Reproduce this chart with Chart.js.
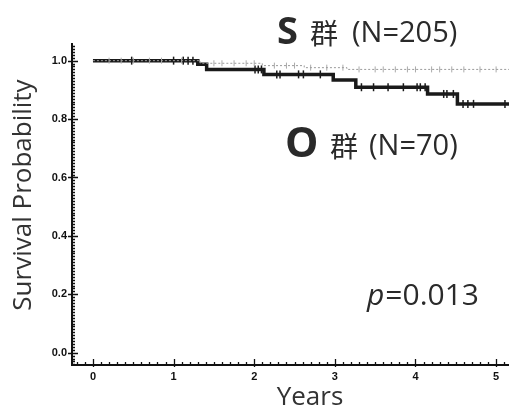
<!DOCTYPE html>
<html>
<head>
<meta charset="utf-8">
<script src="https://cdn.jsdelivr.net/npm/chart.js@4/dist/chart.umd.min.js"></script>
<style>
  html, body { margin: 0; padding: 0; background: #fff; }
  #wrap { width: 509px; height: 412px; position: relative; }
</style>
</head>
<body>
<div id="wrap"><canvas id="km"></canvas></div>
<script>
// Kaplan-Meier steps (years, survival)
const oTimes = [0, 1.30, 1.41, 2.12, 2.98, 3.26, 4.15, 4.52, 5.16]
const oSurv = [1.0, 0.988, 0.970, 0.953, 0.934, 0.909, 0.886, 0.852, 0.852]
const oCensored = [0.48, 1.00, 1.12, 1.18, 1.24, 2.01, 2.05, 2.09, 2.28, 2.32, 2.55, 2.61, 2.82,
    3.33, 3.48, 3.66, 3.85, 4.02, 4.06, 4.12, 4.35, 4.39, 4.47, 4.59, 4.65, 4.72, 5.11]

const sTimes = [0, 1.33, 2.10, 2.62, 3.15, 5.16]
const sSurv = [1.0, 0.991, 0.983, 0.976, 0.970, 0.970]
const sCensored = [0.2, 0.35, 0.5, 0.7, 0.85, 1.1, 1.5, 1.6, 1.75, 1.9, 2.0, 2.25, 2.4, 2.5,
    2.7, 2.9, 3.1, 3.3, 3.5, 3.6, 3.75, 3.9, 4.0, 4.2, 4.3, 4.45, 4.6, 4.8, 5.0]

const xTickLabels = [0, 1, 2, 3, 4, 5]
const yTickLabels = [0.0, 0.2, 0.4, 0.6, 0.8, 1.0]

const pairs = (xs, ys) => xs.map((x, i) => ({ x: x, y: ys[i] }))
// survival value in effect at time t (step lookup)
const stepAt = (xs, ys, t) => {
    let v = ys[0]
    xs.forEach((x, i) => { if (x <= t) v = ys[i] })
    return v
}

const minorTicks = {
    id: 'minorTicks',
    afterDraw(chart) {
        const ctx = chart.ctx
        const { x, y } = chart.scales
        const area = chart.chartArea
        ctx.save()
        ctx.strokeStyle = '#111'
        ctx.lineWidth = 1.3
        ctx.beginPath()
        for (let i = -2; i <= 51; i++) {
            const px = Math.round(x.getPixelForValue(i / 10)) + 0.5
            const len = i % 10 === 0 ? 6 : 3
            ctx.moveTo(px, area.bottom + (i % 10 === 0 ? 2 : 0))
            ctx.lineTo(px, area.bottom - len)
        }
        for (let i = -4; i <= 105; i++) {
            const py = Math.round(y.getPixelForValue(i / 100)) + 0.5
            const major = i % 20 === 0
            ctx.moveTo(area.left - (major ? 4 : 0), py)
            ctx.lineTo(area.left + (major ? 6 : 3), py)
        }
        ctx.stroke()

        // axis titles
        ctx.fillStyle = '#333'
        ctx.font = '26px "Open Sans"'
        ctx.textAlign = 'center'
        ctx.textBaseline = 'alphabetic'
        ctx.fillText('Years', 310, 405)
        ctx.save()
        ctx.translate(31, 195)
        ctx.rotate(-Math.PI / 2)
        ctx.fillText('Survival Probability', 0, 0)
        ctx.restore()

        // group labels
        ctx.textAlign = 'left'
        ctx.fillStyle = '#2a2a2a'
        ctx.font = 'bold 38px "Open Sans"'
        ctx.fillText('S', 277, 44)
        ctx.font = '28px "Noto Sans CJK JP"'
        ctx.fillText('群', 310, 44)
        ctx.font = '29px "Open Sans"'
        ctx.fillText('(N=205)', 352, 42)

        ctx.font = 'bold 42px "Open Sans"'
        ctx.fillText('O', 285, 157)
        ctx.font = '28px "Noto Sans CJK JP"'
        ctx.fillText('群', 330, 157)
        ctx.font = '29px "Open Sans"'
        ctx.fillText('(N=70)', 369, 155)

        ctx.font = 'italic 30px "Open Sans"'
        ctx.fillText('p', 367, 305)
        const pw = ctx.measureText('p').width
        ctx.font = '30px "Open Sans"'
        ctx.fillText('=0.013', 367 + pw + 1, 305)
        ctx.restore()
    }
}

new Chart(document.getElementById('km'), {
    type: 'line',
    data: {
        datasets: [
            {
                label: 'S群',
                data: pairs(sTimes, sSurv),
                stepped: true,
                borderColor: '#9a9a9a',
                borderWidth: 1,
                borderDash: [2, 2],
                pointRadius: 0,
                fill: false,
            },
            {
                label: 'S群 censored',
                type: 'scatter',
                data: sCensored.map(t => ({ x: t, y: stepAt(sTimes, sSurv, t) })),
                pointStyle: 'line',
                rotation: 90,
                pointRadius: 3,
                borderColor: '#aaaaaa',
                borderWidth: 1,
                showLine: false,
            },
            {
                label: 'O群',
                data: pairs(oTimes, oSurv),
                stepped: true,
                borderColor: '#1a1a1a',
                borderWidth: 3.5,
                pointRadius: 0,
                fill: false,
            },
            {
                label: 'O群 censored',
                type: 'scatter',
                data: oCensored.map(t => ({ x: t, y: stepAt(oTimes, oSurv, t) })),
                pointStyle: 'line',
                rotation: 90,
                pointRadius: 4,
                borderColor: '#1a1a1a',
                borderWidth: 1.5,
                showLine: false,
            },
        ]
    },
    options: {
        responsive: true,
        maintainAspectRatio: false,
        animation: false,
        layout: { autoPadding: false, padding: { top: 44, right: 0, left: 0, bottom: 0 } },
        plugins: {
            legend: { display: false },
            tooltip: { enabled: false },
        },
        scales: {
            x: {
                type: 'linear',
                min: -0.26,
                max: 5.16,
                afterBuildTicks: s => { s.ticks = xTickLabels.map(v => ({ value: v })) },
                afterFit: s => { s.height = 47; s.paddingRight = 0 },
                grid: { drawOnChartArea: false, drawTicks: false },
                border: { display: true, color: '#111', width: 2 },
                ticks: {
                    padding: 5,
                    color: '#111',
                    font: { family: 'Liberation Sans', size: 11, weight: 'bold' },
                    callback: v => String(v),
                },
            },
            y: {
                min: -0.042,
                max: 1.057,
                afterBuildTicks: s => { s.ticks = yTickLabels.map(v => ({ value: v })) },
                afterFit: s => { s.width = 72 },
                grid: { drawOnChartArea: false, drawTicks: false },
                border: { display: true, color: '#111', width: 2 },
                ticks: {
                    padding: 5,
                    color: '#111',
                    font: { family: 'Liberation Sans', size: 11, weight: 'bold' },
                    callback: v => v.toFixed(1),
                },
            },
        },
    },
    plugins: [minorTicks],
})
</script>
</body>
</html>
